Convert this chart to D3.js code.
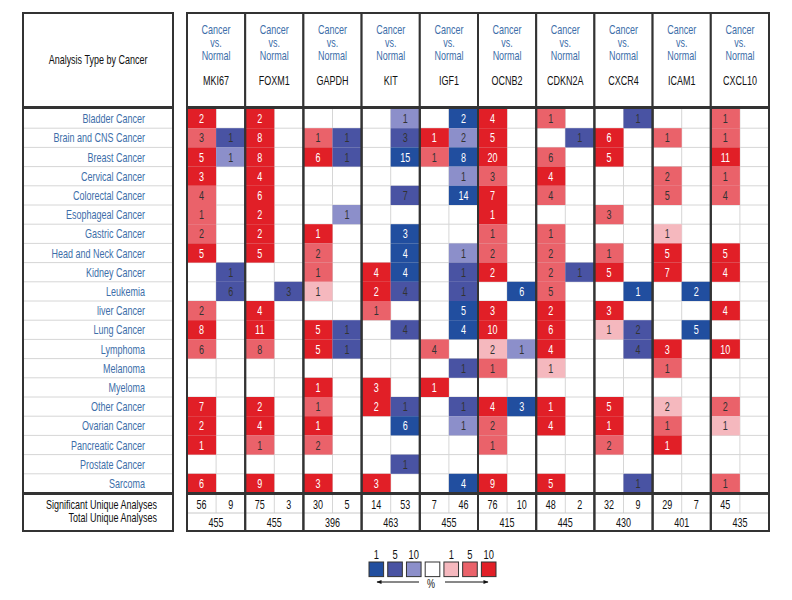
<!DOCTYPE html>
<html><head><meta charset="utf-8">
<script src="https://cdn.jsdelivr.net/npm/d3@7"></script>
<style>
body{margin:0;background:#fff;}
text{font-family:"Liberation Sans",Arial,sans-serif;}
</style></head>
<body>
<svg id="chart" width="792" height="600"></svg>
<script>
const genes = ["MKI67","FOXM1","GAPDH","KIT","IGF1","OCNB2","CDKN2A","CXCR4","ICAM1","CXCL10"];
const cancers = ["Bladder Cancer","Brain and CNS Cancer","Breast Cancer","Cervical Cancer","Colorectal Cancer",
  "Esophageal Cancer","Gastric Cancer","Head and Neck Cancer","Kidney Cancer","Leukemia","liver Cancer",
  "Lung Cancer","Lymphoma","Melanoma","Myeloma","Other Cancer","Ovarian Cancer","Pancreatic Cancer",
  "Prostate Cancer","Sarcoma"];
const _ = null;
// [count, percentile level]
const MKI67_up   = [[2,1],[3,5],[5,1],[3,1],[4,5],[1,5],[2,5],[5,1],_,_,[2,5],[8,1],[6,5],_,_,[7,1],[2,1],[1,1],_,[6,1]];
const MKI67_down = [_,[1,5],[1,10],_,_,_,_,_,[1,5],[6,5],_,_,_,_,_,_,_,_,_,_];
const FOXM1_up   = [[2,1],[8,1],[8,1],[4,1],[6,1],[2,1],[2,1],[5,1],_,_,[4,1],[11,1],[8,5],_,_,[2,1],[4,1],[1,5],_,[9,1]];
const FOXM1_down = [_,_,_,_,_,_,_,_,_,[3,5],_,_,_,_,_,_,_,_,_,_];
const GAPDH_up   = [_,[1,5],[6,1],_,_,_,[1,1],[2,5],[1,5],[1,10],_,[5,1],[5,1],_,[1,1],[1,5],[1,1],[2,5],_,[3,1]];
const GAPDH_down = [_,[1,5],[1,5],_,_,[1,10],_,_,_,_,_,[1,5],[1,5],_,_,_,_,_,_,_];
const KIT_up     = [_,_,_,_,_,_,_,_,[4,1],[2,1],[1,5],_,_,_,[3,1],[2,1],_,_,_,[3,1]];
const KIT_down   = [[1,10],[3,5],[15,1],_,[7,5],_,[3,1],[4,1],[4,1],[4,5],_,[4,5],_,_,_,[1,5],[6,1],_,[1,5],_];
const IGF1_up    = [_,[1,1],[1,5],_,_,_,_,_,_,_,_,_,[4,5],_,[1,1],_,_,_,_,_];
const IGF1_down  = [[2,1],[2,10],[8,1],[1,10],[14,1],_,_,[1,10],[1,5],[1,5],[5,1],[4,1],_,[1,5],_,[1,5],[1,10],_,_,[4,1]];
const OCNB2_up   = [[4,1],[5,1],[20,1],[3,5],[7,1],[1,1],[1,5],[2,5],[2,1],_,[3,1],[10,1],[2,10],[1,5],_,[4,1],[2,5],[1,5],_,[9,1]];
const OCNB2_down = [_,_,_,_,_,_,_,_,_,[6,1],_,_,[1,10],_,_,[3,1],_,_,_,_];
const CDKN2A_up  = [[1,5],_,[6,5],[4,1],[4,5],_,[1,5],[2,5],[2,5],[5,5],[2,1],[6,1],[4,1],[1,10],_,[1,1],[4,1],_,_,[5,1]];
const CDKN2A_down= [_,[1,5],_,_,_,_,_,_,[1,5],_,_,_,_,_,_,_,_,_,_,_];
const CXCR4_up   = [_,[6,1],[5,1],_,_,[3,5],_,[1,5],[5,1],_,[3,1],[1,10],_,_,_,[5,1],[1,1],[2,5],_,_];
const CXCR4_down = [[1,5],_,_,_,_,_,_,_,_,[1,1],_,[2,5],[4,5],_,_,_,_,_,_,[1,5]];
const ICAM1_up   = [_,[1,5],_,[2,5],[5,5],_,[1,10],[5,1],[7,1],_,_,_,[3,1],[1,5],_,[2,10],[1,5],[1,1],_,_];
const ICAM1_down = [_,_,_,_,_,_,_,_,_,[2,1],_,[5,1],_,_,_,_,_,_,_,_];
const CXCL10_up  = [[1,5],[1,5],[11,1],[1,5],[4,5],_,_,[5,1],[4,1],_,[4,1],_,[10,1],_,_,[2,5],[1,10],_,_,[1,5]];
const CXCL10_down= [_,_,_,_,_,_,_,_,_,_,_,_,_,_,_,_,_,_,_,_];
const sigUp   = [56,75,30,14,7,76,48,32,29,45];
const sigDown = [9,3,5,53,46,10,2,9,7,""];
const totalAnalyses = [455,455,396,463,455,415,445,430,401,435];
const legendLabels = ["1","5","10","","1","5","10"];

const upData = [MKI67_up,FOXM1_up,GAPDH_up,KIT_up,IGF1_up,OCNB2_up,CDKN2A_up,CXCR4_up,ICAM1_up,CXCL10_up];
const downData = [MKI67_down,FOXM1_down,GAPDH_down,KIT_down,IGF1_down,OCNB2_down,CDKN2A_down,CXCR4_down,ICAM1_down,CXCL10_down];

const upColor = {1:"#e11f27",5:"#ea626a",10:"#f5b8be"};
const downColor = {1:"#214e9f",5:"#4953a3",10:"#8c8fca"};
const labelBlue = "#3d6ea9";
const dark = "#333";
const SX = 0.72; // condensed type

const svg = d3.select("#chart");
const x = d3.scaleBand().domain(genes).range([187,769]);
const sub = d3.scaleBand().domain(["up","down"]).range([0,x.bandwidth()]);
const y = d3.scaleBand().domain(cancers).range([109,493]);

// place condensed text
function place(sel, fx, fy){
  return sel.attr("transform",(d,i)=>`translate(${fx(d,i)},${fy(d,i)}) scale(${SX},1)`);
}

const cells = [];
genes.forEach((g,gi)=>{
  cancers.forEach((c,ci)=>{
    if(upData[gi][ci]) cells.push({g,c,dir:"up",n:upData[gi][ci][0],lvl:upData[gi][ci][1]});
    if(downData[gi][ci]) cells.push({g,c,dir:"down",n:downData[gi][ci][0],lvl:downData[gi][ci][1]});
  });
});

// light grid
const grid = svg.append("g").attr("stroke","#d6d6d6").attr("stroke-width",1);
cancers.forEach(c=>{
  const yy = y(c)+y.bandwidth();
  grid.append("line").attr("x1",187).attr("x2",769).attr("y1",yy).attr("y2",yy);
  grid.append("line").attr("x1",23).attr("x2",173).attr("y1",yy).attr("y2",yy);
});
genes.forEach(g=>{
  grid.append("line").attr("x1",x(g)+sub("down")).attr("x2",x(g)+sub("down")).attr("y1",109).attr("y2",513);
});

svg.append("g").selectAll("rect").data(cells).join("rect")
  .attr("x",d=>x(d.g)+sub(d.dir))
  .attr("y",d=>y(d.c))
  .attr("width",sub.bandwidth())
  .attr("height",y.bandwidth())
  .attr("fill",d=>d.dir==="up"?upColor[d.lvl]:downColor[d.lvl]);

place(svg.append("g").selectAll("text").data(cells).join("text"),
    d=>x(d.g)+sub(d.dir)+sub.bandwidth()/2, d=>y(d.c)+y.bandwidth()/2+4.5)
  .attr("text-anchor","middle")
  .attr("font-size",12.5)
  .attr("fill",d=>d.lvl===1?"#fff":"#333")
  .text(d=>d.n);

// gene column borders
svg.append("g").selectAll("rect").data(genes).join("rect")
  .attr("x",d=>x(d)).attr("y",108).attr("width",x.bandwidth()).attr("height",385)
  .attr("fill","none").attr("stroke",dark).attr("stroke-width",2);

// header boxes
const hdr = svg.append("g");
hdr.selectAll("rect").data(genes).join("rect")
  .attr("x",d=>x(d)).attr("y",13).attr("width",x.bandwidth()).attr("height",94)
  .attr("fill","#fff").attr("stroke",dark).attr("stroke-width",2);
["Cancer","vs.","Normal"].forEach((t,i)=>{
  place(hdr.selectAll(null).data(genes).join("text"),
      d=>x(d)+x.bandwidth()/2, ()=>[34,47,60][i])
    .attr("text-anchor","middle").attr("font-size",12.5).attr("fill",labelBlue).text(t);
});
place(hdr.selectAll(null).data(genes).join("text"),
    d=>x(d)+x.bandwidth()/2, ()=>85)
  .attr("text-anchor","middle").attr("font-size",12.5).attr("fill","#111").text(d=>d);

// left header + label column
svg.append("rect").attr("x",23).attr("y",13).attr("width",150).attr("height",94)
  .attr("fill","none").attr("stroke",dark).attr("stroke-width",2);
place(svg.append("text").datum(0),()=>98,()=>64).attr("text-anchor","middle").attr("font-size",12.5)
  .attr("fill","#111").text("Analysis Type by Cancer");
svg.append("rect").attr("x",23).attr("y",108).attr("width",150).attr("height",385)
  .attr("fill","none").attr("stroke",dark).attr("stroke-width",2);
place(svg.append("g").selectAll("text").data(cancers).join("text"),
    ()=>145, d=>y(d)+y.bandwidth()/2+4.5)
  .attr("text-anchor","end").attr("font-size",12.5).attr("fill",labelBlue).text(d=>d);

// bottom table
svg.append("rect").attr("x",23).attr("y",494).attr("width",150).attr("height",37)
  .attr("fill","none").attr("stroke",dark).attr("stroke-width",2);
place(svg.append("text").datum(0),()=>157,()=>509).attr("text-anchor","end").attr("font-size",12.5).attr("fill","#111").text("Significant Unique Analyses");
place(svg.append("text").datum(0),()=>157,()=>522).attr("text-anchor","end").attr("font-size",12.5).attr("fill","#111").text("Total Unique Analyses");

const bt = svg.append("g");
bt.selectAll("line.mid").data(genes).join("line").attr("class","mid")
  .attr("x1",d=>x(d)).attr("x2",d=>x(d)+x.bandwidth()).attr("y1",513).attr("y2",513)
  .attr("stroke","#c8c8c8");
bt.selectAll("rect").data(genes).join("rect")
  .attr("x",d=>x(d)).attr("y",494).attr("width",x.bandwidth()).attr("height",37)
  .attr("fill","none").attr("stroke",dark).attr("stroke-width",2);
place(bt.selectAll("text.su").data(genes).join("text").attr("class","su"),
    d=>x(d)+sub("up")+sub.bandwidth()/2, ()=>509)
  .attr("text-anchor","middle").attr("font-size",12.5).attr("fill","#111").text((d,i)=>sigUp[i]);
place(bt.selectAll("text.sd").data(genes).join("text").attr("class","sd"),
    d=>x(d)+sub("down")+sub.bandwidth()/2, ()=>509)
  .attr("text-anchor","middle").attr("font-size",12.5).attr("fill","#111").text((d,i)=>sigDown[i]);
place(bt.selectAll("text.tt").data(genes).join("text").attr("class","tt"),
    d=>x(d)+x.bandwidth()/2, ()=>527)
  .attr("text-anchor","middle").attr("font-size",12.5).attr("fill","#111").text((d,i)=>totalAnalyses[i]);

// legend
const legColors = [downColor[1],downColor[5],downColor[10],"#fff",upColor[10],upColor[5],upColor[1]];
const lx = d3.scaleBand().domain(d3.range(7)).range([369,496]).paddingInner(0.22);
const leg = svg.append("g");
leg.selectAll("rect").data(legColors).join("rect")
  .attr("x",(d,i)=>lx(i)).attr("y",562).attr("width",lx.bandwidth()).attr("height",lx.bandwidth())
  .attr("fill",d=>d).attr("stroke",dark).attr("stroke-width",1);
place(leg.selectAll("text").data(legendLabels).join("text"),
    (d,i)=>lx(i)+lx.bandwidth()/2, ()=>559)
  .attr("text-anchor","middle").attr("font-size",13).attr("fill","#111").text(d=>d);
svg.append("defs").append("marker").attr("id","ah").attr("viewBox","0 0 10 10")
  .attr("refX",9).attr("refY",5).attr("markerWidth",6).attr("markerHeight",5).attr("orient","auto-start-reverse")
  .append("path").attr("d","M0,1 L10,5 L0,9 Z").attr("fill","#111");
leg.append("line").attr("x1",419).attr("x2",377).attr("y1",582).attr("y2",582)
  .attr("stroke","#111").attr("stroke-width",1).attr("marker-end","url(#ah)");
leg.append("line").attr("x1",445).attr("x2",488).attr("y1",582).attr("y2",582)
  .attr("stroke","#111").attr("stroke-width",1).attr("marker-end","url(#ah)");
place(leg.append("text").datum(0),()=>431,()=>588).attr("text-anchor","middle").attr("font-size",12.5).attr("fill","#111").text("%");
</script>
</body></html>
